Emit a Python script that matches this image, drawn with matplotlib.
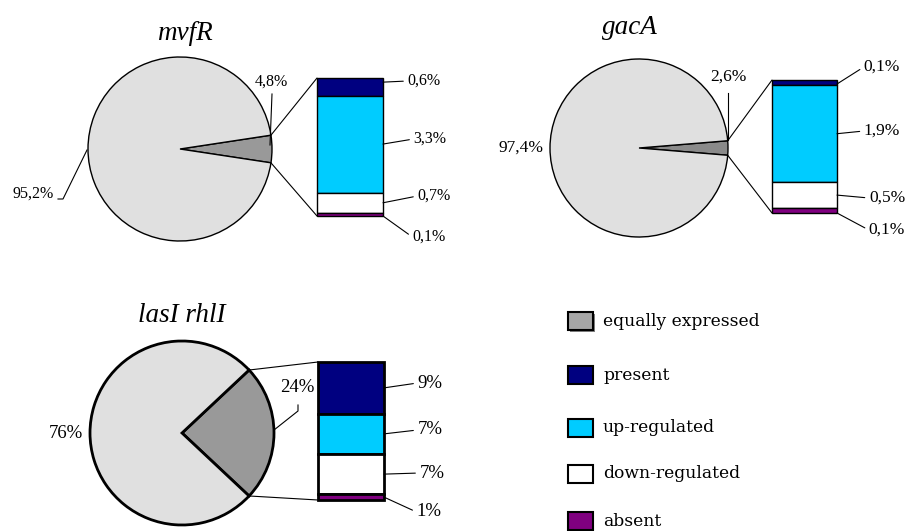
import numpy as np
import matplotlib.pyplot as plt
from matplotlib.patches import ConnectionPatch, Rectangle

# share of genes in the changed slice vs the rest, per mutant
titles = ["mvfR", "gacA", "lasI rhlI"]
changed = [4.8, 2.6, 24]
unchanged = [95.2, 97.4, 76]
# breakdown of the changed slice: present, up-regulated, down-regulated, absent
present = [0.6, 0.1, 9]
up_reg = [3.3, 1.9, 7]
down_reg = [0.7, 0.5, 7]
absent = [0.1, 0.1, 1]
decimals = [1, 1, 0]

categories = ["equally expressed", "present", "up-regulated", "down-regulated", "absent"]
colors = ["#a6a6a6", "#000080", "#00ccff", "#ffffff", "#800080"]
pie_grey = "#e0e0e0"
slice_grey = ["#999999", "#8a8a8a", "#999999"]

W, H = 907, 531
serif = "Liberation Serif"


def fmt(v, d):
    return f"{v:.{d}f}%".replace(".", ",")


def up(y):
    return H - y


fig = plt.figure(figsize=(W / 100, H / 100), dpi=100)
ax = fig.add_axes([0, 0, 1, 1])

# layout of each panel (pixels from the top-left corner)
panels = [
    dict(c=(180, 149), r=92, bar=(317, 78, 66, 138), lw=1.0, fs=11.5, title=(185, 33),
         big_lbl=(33, 194), big_line=[(58, 199), (63, 199), (87, 150)],
         sm_lbl=(271, 82), sm_line=[(272, 94), (270, 145)],
         bar_lbl=[(424, 81), (430, 139), (434, 196), (429, 237)]),
    dict(c=(639, 148), r=89, bar=(772, 80, 65, 133), lw=1.0, fs=12.5, title=(630, 28),
         big_lbl=(521, 148), big_line=None,
         sm_lbl=(728, 77), sm_line=[(728, 93), (728, 140)],
         bar_lbl=[(882, 67), (882, 131), (887, 198), (887, 230)]),
    dict(c=(182, 433), r=92, bar=(318, 362, 66, 138), lw=2.0, fs=13.5, title=(182, 315),
         big_lbl=(66, 433), big_line=None,
         sm_lbl=(297, 388), sm_line=[(298, 405), (298, 411), (274, 430)],
         bar_lbl=[(430, 383), (430, 430), (432, 473), (429, 512)]),
]

for i, p in enumerate(panels):
    cx, cy = p["c"][0], up(p["c"][1])
    half = changed[i] / (changed[i] + unchanged[i]) * 360 / 2
    ax.pie([changed[i], unchanged[i]], center=(cx, cy), radius=p["r"],
           startangle=-half, colors=[slice_grey[i], pie_grey],
           wedgeprops=dict(edgecolor="black", linewidth=p["lw"]))

    ax.text(p["title"][0], up(p["title"][1]), titles[i], family=serif,
            style="italic", fontsize=19.5, ha="center", va="center")

    # pie labels with leader lines
    ax.text(p["big_lbl"][0], up(p["big_lbl"][1]), fmt(unchanged[i], decimals[i]),
            family=serif, fontsize=p["fs"], ha="center", va="center")
    ax.text(p["sm_lbl"][0], up(p["sm_lbl"][1]), fmt(changed[i], decimals[i]),
            family=serif, fontsize=p["fs"], ha="center", va="center")
    for pts in (p["big_line"], p["sm_line"]):
        if pts:
            ax.plot([q[0] for q in pts], [up(q[1]) for q in pts], color="black", lw=0.8)

    # stacked bar for the changed slice
    bx, by, bw, bh = p["bar"]
    bax = fig.add_axes([bx / W, up(by + bh) / H, bw / W, bh / H])
    segs = [present[i], up_reg[i], down_reg[i], absent[i]]
    total = sum(segs)
    tops = total - np.cumsum([0] + segs[:-1])
    bottoms = tops - np.array(segs)
    bax.bar(0.5, segs, bottom=bottoms, width=1.0, color=colors[1:],
            edgecolor="black", linewidth=p["lw"], clip_on=False)
    bax.set_xlim(0, 1)
    bax.set_ylim(0, total)
    bax.axis("off")

    # lines from the slice edge to the bar corners
    for sign, ybar in ((1, total), (-1, 0)):
        ex = cx + p["r"] * np.cos(np.radians(half))
        ey = cy + sign * p["r"] * np.sin(np.radians(half))
        con = ConnectionPatch(xyA=(ex, ey), coordsA=ax.transData,
                              xyB=(0, ybar), coordsB=bax.transData,
                              color="black", lw=0.8)
        fig.add_artist(con)

    for k, seg in enumerate(segs):
        mid = bottoms[k] + seg / 2
        if k == 0 and i < 2:
            mid = tops[0] - total * 0.03
        if k == 3 and i < 2:
            mid = 0
        lx, ly = p["bar_lbl"][k]
        bax.annotate(fmt(seg, decimals[i]), xy=(1.0, mid), xycoords="data",
                     xytext=(lx, up(ly)), textcoords=ax.transData,
                     family=serif, fontsize=p["fs"], ha="center", va="center",
                     annotation_clip=False,
                     arrowprops=dict(arrowstyle="-", color="black", lw=0.8,
                                     relpos=(0, 0.5), shrinkA=1, shrinkB=0))

# legend drawn as boxes and labels
legend_y = [321, 375, 428, 474, 521]
for k, name in enumerate(categories):
    y0 = up(legend_y[k]) - 9
    if k == 0:
        ax.add_patch(Rectangle((570, y0 - 2), 25, 18, facecolor="#808080", edgecolor="none"))
    ax.add_patch(Rectangle((568, y0), 25, 18, facecolor=colors[k],
                           edgecolor="black", linewidth=1.5))
    ax.text(603, up(legend_y[k]), name, family="DejaVu Serif", fontsize=12.3,
            ha="left", va="center")

ax.set_xlim(0, W)
ax.set_ylim(0, H)
ax.set_aspect("auto")
ax.axis("off")

fig.savefig("out.png", dpi=100)
